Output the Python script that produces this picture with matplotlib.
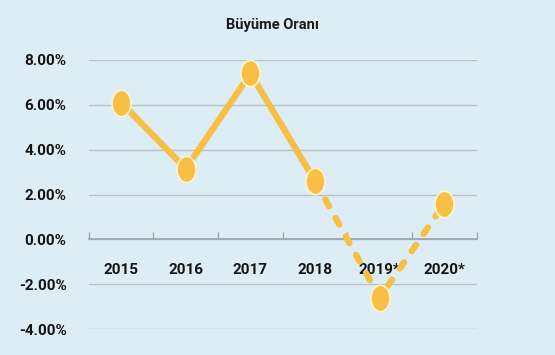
import matplotlib.pyplot as plt
from matplotlib.ticker import FixedLocator
from matplotlib.path import Path
from matplotlib.transforms import Affine2D

# data
years = ["2015", "2016", "2017", "2018", "2019*", "2020*"]
growth = [6.1, 3.15, 7.4, 2.6, -2.6, 1.6]
yticks = [-4, -2, 0, 2, 4, 6, 8]

bg = "#ddedf6"
line_col = "#f8bf45"
plt.rcParams["font.family"] = ["Roboto", "DejaVu Sans"]

fig = plt.figure(figsize=(5.55, 3.55), dpi=100, facecolor=bg)
ax = fig.add_axes([0.160, 0.073, 0.699, 0.758], facecolor=bg)

# the source image is squashed sideways, so markers are tall ellipses
ellipse = Path.unit_circle().transformed(Affine2D().scale(0.72, 1.0))

x = list(range(len(years)))
# actual values solid, forecasts dashed
ax.plot(x[:4], growth[:4], color=line_col, lw=4.6, solid_capstyle="round", zorder=3)
ax.plot(x[3:], growth[3:], color=line_col, lw=4.6, ls=(0, (1.2, 2.1)),
        dash_capstyle="round", zorder=3)
ax.plot(x, growth, ls="none", marker=ellipse, ms=19, color=line_col,
        mec="#fff6cf", mew=1.2, zorder=4)

ax.set_xlim(-0.5, 5.5)
ax.set_ylim(-4, 8)
ax.set_yticks(yticks)
ax.set_yticklabels([f"{v:.2f}%" for v in yticks])
ax.grid(axis="y", color="#b8c3c8", lw=1)
ax.set_axisbelow(True)

for s in ["top", "right", "left"]:
    ax.spines[s].set_visible(False)
ax.spines["bottom"].set_position(("data", 0))
ax.spines["bottom"].set_color("#9aa5aa")
ax.spines["bottom"].set_linewidth(1.2)

ax.set_xticks(x)
ax.set_xticklabels(years)
ax.xaxis.set_minor_locator(FixedLocator([i - 0.5 for i in range(len(years) + 1)]))
ax.tick_params(axis="x", which="major", length=0, pad=17, labelsize=11)
ax.tick_params(axis="x", which="minor", direction="in", length=5, color="#9aa5aa", width=1)
ax.tick_params(axis="y", length=0, pad=16, labelsize=11)
for lab in ax.get_xticklabels() + ax.get_yticklabels():
    lab.set_fontweight("bold")
    lab.set_color("#141414")

fig.text(0.49, 1 - 25 / 355, "Büyüme Oranı", ha="center", va="center",
         fontsize=10.5, fontweight="bold", color="#1a1a1a")

fig.savefig("out.png", dpi=100, facecolor=bg)
